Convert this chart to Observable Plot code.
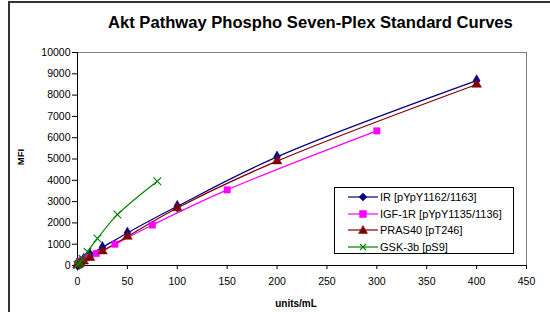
<!DOCTYPE html>
<html>
<head>
<meta charset="utf-8">
<script src="https://cdn.jsdelivr.net/npm/d3@7"></script>
<script src="https://cdn.jsdelivr.net/npm/@observablehq/plot@0.6"></script>
<style>
  html, body { margin: 0; padding: 0; background: #fff; }
  #wrap { position: relative; width: 550px; height: 312px; overflow: hidden; font-family: "Liberation Sans", Arial, sans-serif; }
  #frame { position: absolute; left: 8px; top: 1px; width: 600px; height: 400px; border-left: 2px solid #333; border-top: 2px solid #333; }
  #title { position: absolute; left: 108px; width: 400px; top: 23px; transform: translateY(-50%); text-align: center; font-weight: bold; font-size: 16.6px; color: #000; white-space: nowrap; }
  #chart { position: absolute; left: 0; top: 40px; }
  #ylab { position: absolute; left: 20px; top: 157px; transform: translate(-50%, -50%) rotate(-90deg); font-weight: bold; font-size: 9.5px; }
  #xlab { position: absolute; left: 296px; top: 303px; transform: translate(-50%, -50%); font-weight: bold; font-size: 10px; }
  #legend { position: absolute; left: 334px; top: 187px; width: 180px; height: 67px; border: 1px solid #000; background: #fff; box-sizing: border-box; }
  .row { position: absolute; left: 0; height: 16px; display: flex; align-items: center; font-size: 11px; white-space: nowrap; }
  .row svg { margin-left: 13px; margin-right: 2px; }
</style>
</head>
<body>
<div id="wrap">
  <div id="frame"></div>
  <div id="title">Akt Pathway Phospho Seven-Plex Standard Curves</div>
  <div id="chart"></div>
  <div id="ylab">MFI</div>
  <div id="xlab">units/mL</div>
  <div id="legend"></div>
</div>
<script>
// Series names, colors, symbols
const seriesNames = ["IR [pYpY1162/1163]", "IGF-1R [pYpY1135/1136]", "PRAS40 [pT246]", "GSK-3b [pS9]"];
const seriesColors = ["#000080", "#ff00ff", "#800000", "#008000"];
const seriesSymbols = ["diamond", "square", "triangle", "times"];

// Data (units/mL, MFI)
const irX   = [0, 1.5625, 3.125, 6.25, 12.5, 25, 50, 100, 200, 400];
const irY   = [40, 90, 170, 300, 520, 850, 1530, 2780, 5100, 8680];
const igfX  = [0, 1.17, 2.34, 4.69, 9.375, 18.75, 37.5, 75, 150, 300];
const igfY  = [60, 110, 180, 260, 380, 560, 1000, 1900, 3550, 6320];
const prasX = [0, 1.5625, 3.125, 6.25, 12.5, 25, 50, 100, 200, 400];
const prasY = [20, 60, 110, 200, 370, 670, 1360, 2700, 4900, 8500];
const gskX  = [0, 1.25, 2.5, 5, 10, 20, 40, 80];
const gskY  = [20, 80, 160, 320, 650, 1270, 2390, 3960];

const xTicks = [0, 50, 100, 150, 200, 250, 300, 350, 400, 450];
const yTicks = [0, 1000, 2000, 3000, 4000, 5000, 6000, 7000, 8000, 9000, 10000];

const allX = [irX, igfX, prasX, gskX];
const allY = [irY, igfY, prasY, gskY];
const data = [];
allX.forEach((xs, s) => xs.forEach((x, i) => data.push({series: seriesNames[s], x, y: allY[s][i]})));

const colorScale = {domain: seriesNames, range: seriesColors};
const symScale = {domain: seriesNames, range: seriesSymbols};

const plot = Plot.plot({
  width: 550,
  height: 272,
  marginLeft: 77,
  marginRight: 24,
  marginTop: 12,
  marginBottom: 47,
  style: {fontFamily: "Liberation Sans, Arial, sans-serif", fontSize: "10.5px", background: "transparent", color: "#000"},
  x: {domain: [0, 450]},
  y: {domain: [0, 10000]},
  color: colorScale,
  symbol: symScale,
  marks: [
    Plot.frame({stroke: "#808080", strokeWidth: 1}),
    Plot.axisX({ticks: xTicks, tickSize: 4, tickPadding: 8, label: null, stroke: "#000", fill: "#000"}),
    Plot.axisY({ticks: yTicks, tickSize: 5, tickPadding: 2, label: null, tickFormat: d => String(d), stroke: "#000", fill: "#000"}),
    Plot.ruleX([0], {stroke: "#000"}),
    Plot.ruleY([0], {stroke: "#000"}),
    Plot.line(data, {x: "x", y: "y", z: "series", stroke: "series", strokeWidth: 1.2, curve: "catmull-rom"}),
    Plot.dot(data.filter(d => d.series !== seriesNames[3]), {x: "x", y: "y", symbol: "series", fill: "series", r: 3.6, stroke: "series", strokeWidth: 0.5}),
    Plot.dot(data.filter(d => d.series === seriesNames[3]), {x: "x", y: "y", symbol: "series", stroke: "series", r: 3.6, strokeWidth: 1.1})
  ]
});
document.getElementById("chart").appendChild(plot);

// Legend
const legend = document.getElementById("legend");
const symPaths = {
  diamond: "M15,4 L19,8 L15,12 L11,8 Z",
  square: "M11.5,4.5 H18.5 V11.5 H11.5 Z",
  triangle: "M15,3.5 L19.5,11.5 L10.5,11.5 Z",
  times: "M12,5 L18,11 M18,5 L12,11"
};
seriesNames.forEach((name, i) => {
  const row = document.createElement("div");
  row.className = "row";
  row.style.top = (1 + i * 16.5) + "px";
  const sym = seriesSymbols[i];
  const c = seriesColors[i];
  const isStroke = sym === "times";
  row.innerHTML = `<svg width="30" height="16"><line x1="0" x2="30" y1="8" y2="8" stroke="${c}" stroke-width="1.2"/>` +
    `<path d="${symPaths[sym]}" fill="${isStroke ? "none" : c}" stroke="${c}" stroke-width="${isStroke ? 1.1 : 0.5}"/></svg>` +
    `<span>${name}</span>`;
  legend.appendChild(row);
});
</script>
</body>
</html>
